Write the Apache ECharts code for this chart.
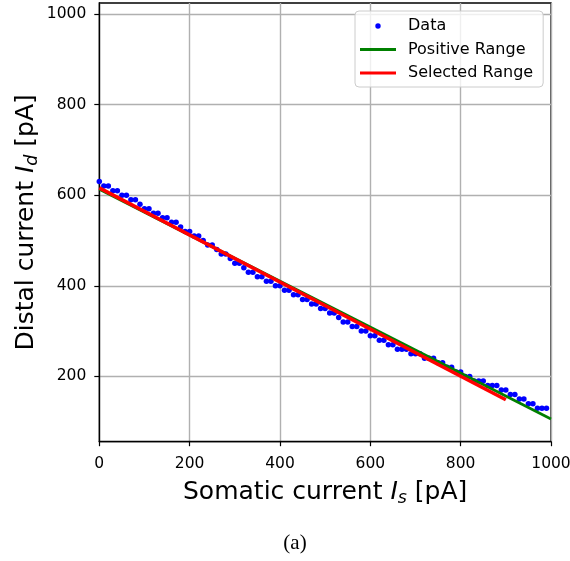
<!DOCTYPE html>
<html>
<head>
<meta charset="utf-8">
<script src="https://cdn.jsdelivr.net/npm/echarts@6/dist/echarts.min.js"></script>
<style>
html,body{margin:0;padding:0;background:#fff;}
#chart{width:570px;height:561px;}
</style>
</head>
<body>
<div id="chart"></div>
<script>
// Measured data (somatic current, distal current) in pA
const dataX = [0,10,20,30,40,50,60,70,80,90,100,110,120,130,140,150,160,170,180,190,
  200,210,220,230,240,250,260,270,280,290,300,310,320,330,340,350,360,370,380,390,
  400,410,420,430,440,450,460,470,480,490,500,510,520,530,540,550,560,570,580,590,
  600,610,620,630,640,650,660,670,680,690,700,710,720,730,740,750,760,770,780,790,
  800,810,820,830,840,850,860,870,880,890,900,910,920,930,940,950,960,970,980,990];
const dataY = [630,620,620,610,610,600,600,590,590,580,570,570,560,560,550,550,540,540,530,520,
  520,510,510,500,490,490,480,470,470,460,450,450,440,430,430,420,420,410,410,400,
  400,390,390,380,380,370,370,360,360,350,350,340,340,330,320,320,310,310,300,300,
  290,290,280,280,270,270,260,260,260,250,250,250,240,240,240,230,230,220,220,210,
  210,200,200,190,190,190,180,180,180,170,170,160,160,150,150,140,140,130,130,130];
// Fitted lines
const positiveX = [0, 1000];
const positiveY = [613, 106];
const selectedX = [0, 900];
const selectedY = [616, 148.5];
// Tick labels
const xTicks = [0, 200, 400, 600, 800, 1000];
const yTicks = [200, 400, 600, 800, 1000];

const FONT = 'DejaVu Sans';
const pairs = (xs, ys) => xs.map((x, i) => [x, ys[i]]);

const dotIcon = 'path://M0,0L0,0ZM36,14L36,14ZM15.3,7A2.7,2.7 0 1,0 20.7,7A2.7,2.7 0 1,0 15.3,7Z';
const lineIcon = 'path://M0,0L0,0ZM36,14L36,14ZM0,5.5L36,5.5L36,8.5L0,8.5Z';

const richName = {
  it: {fontFamily: FONT, fontSize: 25, fontStyle: 'italic', color: '#000'},
  sub: {fontFamily: FONT, fontSize: 17.5, fontStyle: 'italic', color: '#000', padding: [12, 0, 0, 0]}
};

const chart = echarts.init(document.getElementById('chart'), null, {renderer: 'canvas'});
chart.setOption({
  animation: false,
  backgroundColor: '#fff',
  grid: {left: 99.3, right: 19, top: 3, bottom: 119.3, show: true, borderColor: '#000', borderWidth: 1.3,
         backgroundColor: 'transparent', containLabel: false, outerBoundsMode: 'none'},
  xAxis: {
    type: 'value', min: xTicks[0], max: xTicks[xTicks.length - 1], interval: 200,
    axisLine: {show: true, lineStyle: {color: '#000', width: 1.3}},
    axisTick: {show: true, length: 4.5, lineStyle: {color: '#000', width: 1.2}},
    axisLabel: {fontFamily: FONT, fontSize: 15.5, color: '#000', margin: 14, formatter: v => String(v)},
    splitLine: {show: true, lineStyle: {color: '#b0b0b0', width: 1.4}},
    name: 'Somatic current {it|I}{sub|s} [pA]',
    nameLocation: 'middle', nameGap: 36, nameMoveOverlap: false,
    nameTextStyle: {fontFamily: FONT, fontSize: 25, color: '#000', rich: richName}
  },
  yAxis: {
    type: 'value', min: 56, max: 1024,
    axisLine: {show: true, lineStyle: {color: '#000', width: 1.3}},
    axisTick: {show: true, length: 5, lineStyle: {color: '#000', width: 1.2}, customValues: yTicks},
    axisLabel: {fontFamily: FONT, fontSize: 15.5, color: '#000', margin: 13, customValues: yTicks, formatter: v => String(v)},
    splitLine: {show: true, lineStyle: {color: '#b0b0b0', width: 1.4}},
    name: 'Distal current {it|I}{sub|d} [pA]',
    nameLocation: 'middle', nameGap: 58, nameMoveOverlap: false,
    nameTextStyle: {fontFamily: FONT, fontSize: 25, color: '#000', rich: richName}
  },
  legend: {
    left: 355, top: 11, orient: 'vertical',
    padding: [6, 10, 5, 5], itemGap: 5.5, itemWidth: 36, itemHeight: 14,
    backgroundColor: 'rgba(255,255,255,0.8)', borderColor: '#cccccc', borderWidth: 1, borderRadius: 4,
    textStyle: {fontFamily: FONT, fontSize: 16, color: '#000', lineHeight: 18, padding: [0, 0, 0, 7]},
    data: [
      {name: 'Data', icon: dotIcon},
      {name: 'Positive Range', icon: lineIcon},
      {name: 'Selected Range', icon: lineIcon}
    ]
  },
  series: [
    {name: 'Data', type: 'scatter', data: pairs(dataX, dataY), symbol: 'circle', symbolSize: 5.5,
     itemStyle: {color: '#0000ff', opacity: 1}, z: 2},
    {name: 'Positive Range', type: 'line', data: pairs(positiveX, positiveY), symbol: 'none', showSymbol: false,
     lineStyle: {color: '#008000', width: 2.7}, itemStyle: {color: '#008000'}, z: 3},
    {name: 'Selected Range', type: 'line', data: pairs(selectedX, selectedY), symbol: 'none', showSymbol: false,
     lineStyle: {color: '#ff0000', width: 3.5}, itemStyle: {color: '#ff0000'}, z: 4}
  ],
  graphic: [
    {type: 'text', x: 295, y: 543,
     style: {text: '(a)', font: '21px "Liberation Serif"', fill: '#000', align: 'center', verticalAlign: 'middle'}}
  ]
});
</script>
</body>
</html>
